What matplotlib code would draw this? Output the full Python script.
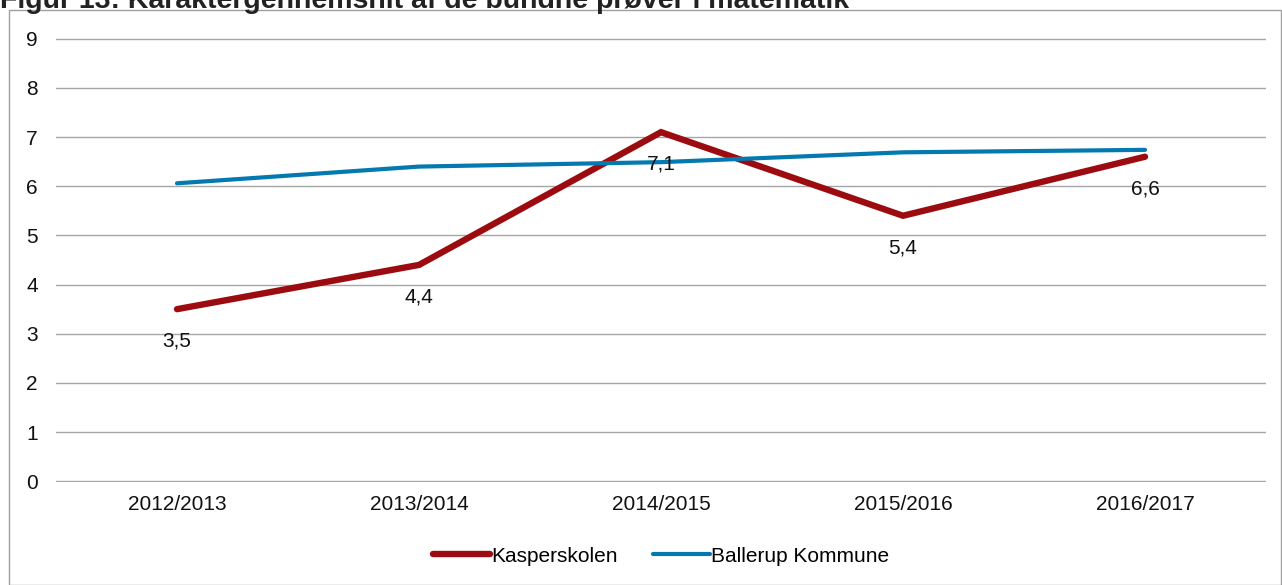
import matplotlib.pyplot as plt
from matplotlib.patches import Rectangle

# Data
years = ["2012/2013", "2013/2014", "2014/2015", "2015/2016", "2016/2017"]
kasperskolen = [3.5, 4.4, 7.1, 5.4, 6.6]
ballerup = [6.06, 6.40, 6.49, 6.69, 6.74]
title = "Figur 13: Karaktergennemsnit af de bundne prøver i matematik"

plt.rcParams['font.family'] = ['Liberation Sans', 'DejaVu Sans']

W, H = 1282, 585
fig = plt.figure(figsize=(W / 100, H / 100), dpi=100)

# Axes placed in pixel coordinates of the reference
left, right, top, bottom = 56, 1266, 38, 482
ax = fig.add_axes([left / W, 1 - bottom / H, (right - left) / W, (bottom - top) / H])

fs = 15
x = list(range(len(years)))
ax.plot(x, kasperskolen, color="#9C0B10", lw=4.6, solid_capstyle="round",
        solid_joinstyle="miter", label="Kasperskolen", zorder=3)
ax.plot(x, ballerup, color="#0379B0", lw=3.0, solid_capstyle="round",
        label="Ballerup Kommune", zorder=4)

for xi, v in zip(x, kasperskolen):
    ax.annotate(f"{v:.1f}".replace(".", ","), (xi, v), xytext=(0, -23),
                textcoords="offset points", ha="center", va="center",
                fontsize=fs, color="#111111", zorder=5)

ax.set_xlim(-0.5, len(years) - 0.5)
ax.set_ylim(-0.015, 9.015)
ax.set_yticks(range(10))
ax.set_xticks(x)
ax.set_xticklabels(years)
ax.tick_params(axis="both", length=0, labelsize=fs, colors="#111111")
ax.tick_params(axis="y", pad=13)
ax.tick_params(axis="x", pad=9)
ax.grid(True, axis="y", color="#A6A6A6", lw=1.0)
ax.set_axisbelow(True)
for s in ax.spines.values():
    s.set_visible(False)

ax.legend(loc="center", bbox_to_anchor=(0.5, (1 - 556 / H - (1 - bottom / H)) / ((bottom - top) / H)),
          ncol=2, frameon=False, fontsize=fs, handlelength=2.75, handletextpad=0.05,
          columnspacing=1.7)

# Outer frame of the chart
fig.patches.append(Rectangle((9 / W, 0), 1 - 9 / W - 1 / W, 1 - 10 / H, transform=fig.transFigure,
                             fill=False, edgecolor="#A0A0A0", lw=1.0))

# Title (cut off at the top in the reference)
fig.text(0.0, 1 - 1 / H, title, ha="left", va="center", fontsize=20.5,
         fontweight="bold", color="#222222")

fig.savefig("out.png", dpi=100)
